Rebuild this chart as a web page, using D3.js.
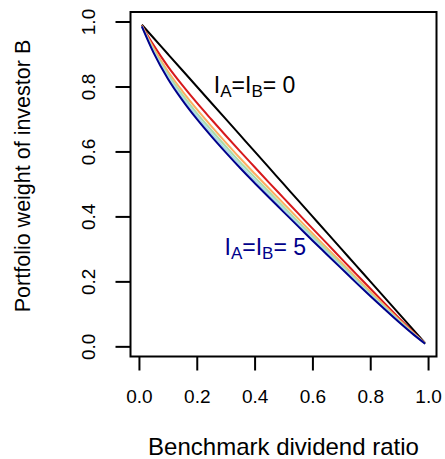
<!DOCTYPE html>
<html><head><meta charset="utf-8">
<script src="https://cdn.jsdelivr.net/npm/d3@7"></script>
<style>html,body{margin:0;padding:0;background:#fff;}svg{display:block;font-family:"Liberation Sans",Arial,Helvetica,sans-serif;}</style>
</head><body>
<svg id="chart" width="445" height="459"></svg>
<script>
// Data
const ratio = [0.01,0.05,0.10,0.15,0.20,0.25,0.30,0.35,0.40,0.45,0.50,0.55,0.60,0.65,0.70,0.75,0.80,0.85,0.90,0.95,0.99];
const weightI0 = [0.990,0.950,0.900,0.850,0.800,0.750,0.700,0.650,0.600,0.550,0.500,0.450,0.400,0.350,0.300,0.250,0.200,0.150,0.100,0.050,0.010];
const weightI1 = [0.988,0.928,0.862,0.804,0.750,0.699,0.649,0.600,0.552,0.504,0.457,0.410,0.363,0.317,0.270,0.224,0.178,0.132,0.087,0.043,0.009];
const weightI2 = [0.987,0.919,0.847,0.786,0.730,0.678,0.628,0.579,0.532,0.486,0.440,0.394,0.348,0.303,0.258,0.213,0.169,0.125,0.082,0.040,0.009];
const weightI3 = [0.986,0.913,0.838,0.775,0.718,0.666,0.616,0.567,0.521,0.475,0.430,0.384,0.339,0.295,0.251,0.207,0.163,0.121,0.079,0.039,0.008];
const weightI4 = [0.985,0.909,0.831,0.766,0.709,0.656,0.606,0.558,0.512,0.466,0.422,0.377,0.333,0.289,0.245,0.202,0.159,0.117,0.076,0.037,0.008];
const weightI5 = [0.985,0.905,0.824,0.758,0.700,0.647,0.597,0.549,0.503,0.458,0.414,0.370,0.326,0.283,0.240,0.197,0.155,0.114,0.074,0.036,0.008];
const seriesList = [weightI0, weightI1, weightI2, weightI3, weightI4, weightI5];
const seriesColors = ["#000000","#D7191C","#FDAE61","#ABDDA4","#ABD9E9","#00008B"];
const xTicks = [0,0.2,0.4,0.6,0.8,1.0];
const yTicks = [0,0.2,0.4,0.6,0.8,1.0];
const xTitle = "Benchmark dividend ratio";
const yTitle = "Portfolio weight of investor B";

const svg = d3.select("#chart");
// R-style extended domains (4%)
const xr = [0.01, 0.99], yr = [0.008, 0.99];
const ext = (r) => { const d = (r[1]-r[0])*0.04; return [r[0]-d, r[1]+d]; };
const box = {left:130.5, right:436.5, top:12, bottom:356.5};
const x = d3.scaleLinear().domain(ext(xr)).range([box.left, box.right]);
const y = d3.scaleLinear().domain(ext(yr)).range([box.bottom, box.top]);

const fmt = d3.format(".1f");
// X axis
const xAxis = d3.axisBottom(x).tickValues(xTicks).tickFormat(fmt).tickSize(14);
const gx = svg.append("g").attr("transform",`translate(0,${box.bottom})`).call(xAxis);
gx.select(".domain").remove();
gx.selectAll(".tick line").attr("stroke","#000").attr("stroke-width",2);
gx.selectAll(".tick text").attr("font-size",19).attr("fill","#000").attr("y",46.5).attr("dy",null);

// Y axis
const yAxis = d3.axisLeft(y).tickValues(yTicks).tickFormat(fmt).tickSize(15);
const gy = svg.append("g").attr("transform",`translate(${box.left},0)`).call(yAxis);
gy.select(".domain").remove();
gy.selectAll(".tick line").attr("stroke","#000").attr("stroke-width",2);
gy.selectAll(".tick text")
  .attr("font-size",19).attr("fill","#000")
  .attr("x",null).attr("dy",null)
  .attr("text-anchor","middle")
  .attr("transform","translate(-35.5,0) rotate(-90)");

// Lines
const line = d3.line().x((d,i)=>x(ratio[i])).y(d=>y(d)).curve(d3.curveMonotoneX);
const plot = svg.append("g");
seriesList.forEach((s,k)=>{
  plot.append("path").datum(s).attr("d",line).attr("fill","none")
    .attr("stroke",seriesColors[k]).attr("stroke-width",2).attr("stroke-linejoin","round");
});

// Box
svg.append("rect").attr("x",box.left).attr("y",box.top)
  .attr("width",box.right-box.left).attr("height",box.bottom-box.top)
  .attr("fill","none").attr("stroke","#000").attr("stroke-width",2);

// Annotations
function label(xv, yv, val, color){
  const t = svg.append("text").attr("x",x(xv)).attr("y",y(yv)).attr("text-anchor","middle")
    .attr("font-size",23).attr("fill",color).attr("dy","0.36em");
  t.append("tspan").text("I");
  t.append("tspan").text("A").attr("font-size",17).attr("dy",4);
  t.append("tspan").text("=I").attr("dy",-4);
  t.append("tspan").text("B").attr("font-size",17).attr("dy",4);
  t.append("tspan").text("= " + val).attr("dy",-4);
}
label(0.40, 0.806, "0", "#000");
label(0.437, 0.307, "5", "#00008B");

// Titles
svg.append("text").attr("x",(box.left+box.right)/2).attr("y",455).attr("text-anchor","middle")
  .attr("font-size",24).attr("fill","#000").text(xTitle);
svg.append("text").attr("transform",`translate(30,176) rotate(-90)`)
  .attr("text-anchor","middle").attr("font-size",21.5).attr("fill","#000").text(yTitle);
</script>
</body></html>
